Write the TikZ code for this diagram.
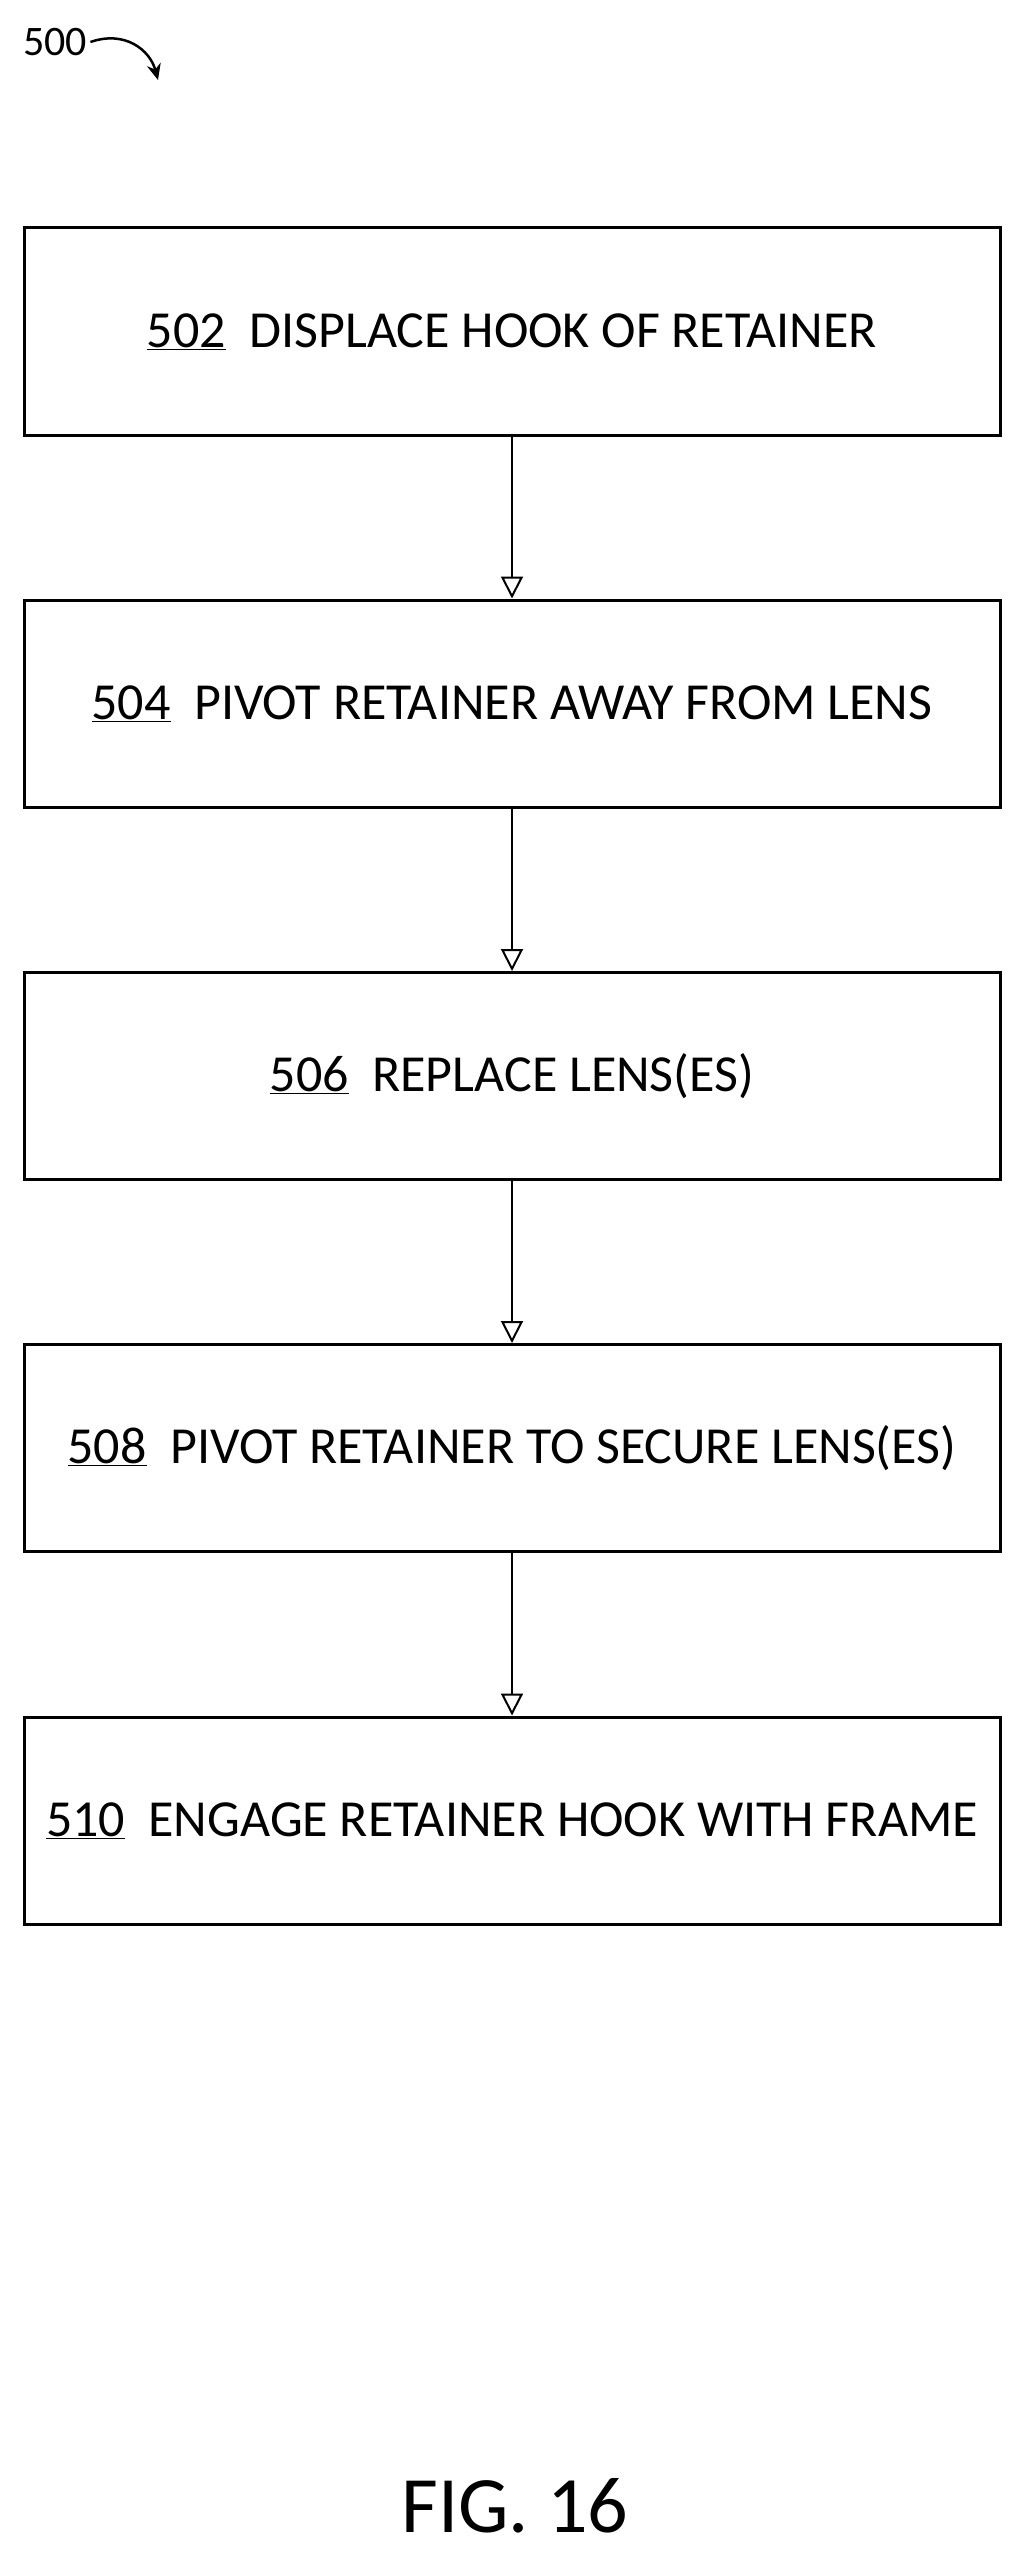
\documentclass[tikz,border=0pt]{standalone}
\usepackage{fontspec}
\setmainfont{Carlito}
\usetikzlibrary{arrows.meta}
\begin{document}
\begin{tikzpicture}[x=1pt,y=-1pt,
  box/.style={draw,line width=3pt,minimum width=976pt,minimum height=207pt,font=\fontsize{52}{60}\selectfont},
  conn/.style={line width=2pt,-{Triangle[open,length=22pt,width=22pt,line width=2pt]}}]
\useasboundingbox (0,0) rectangle (1024,2555);
\node[box] (b1) at (512,331.5) {\underline{502}\ \ DISPLACE HOOK OF RETAINER};
\node[box] (b2) at (512,703.5) {\underline{504}\ \ PIVOT RETAINER AWAY FROM LENS};
\node[box] (b3) at (512,1076) {\underline{506}\ \ REPLACE LENS(ES)};
\node[box] (b4) at (512,1448) {\underline{508}\ \ PIVOT RETAINER TO SECURE LENS(ES)};
\node[box] (b5) at (512,1820.5) {\underline{510}\ \ ENGAGE RETAINER HOOK WITH FRAME};
\draw[conn] (b1) -- (b2);
\draw[conn] (b2) -- (b3);
\draw[conn] (b3) -- (b4);
\draw[conn] (b4) -- (b5);
\node[font=\fontsize{42}{50}\selectfont] (n500) at (55,42) {500};
\coordinate (t500) at (158,80);
\draw[line width=2.5pt,-{Stealth[length=16pt,width=14pt]}] (n500.east) .. controls (125,30) and (150,50) .. (t500);
\node[font=\fontsize{80}{96}\selectfont] (fig) at (515,2506) {FIG. 16};
\end{tikzpicture}
\end{document}
